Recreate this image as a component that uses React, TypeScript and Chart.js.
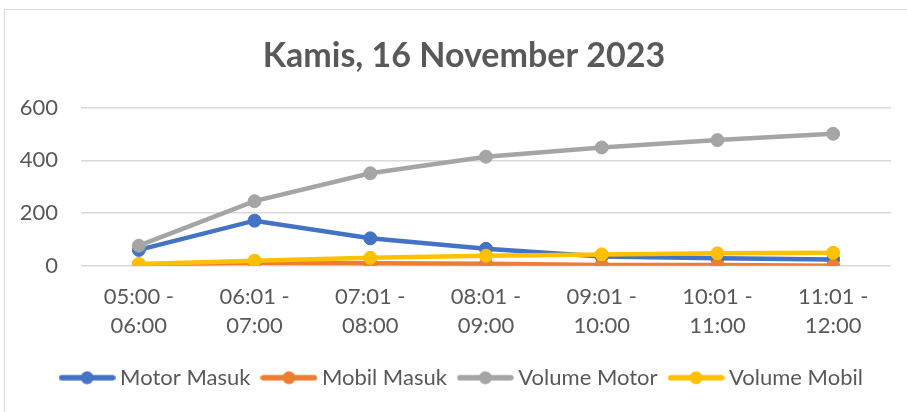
import React, { useEffect, useRef } from "react";
import { Chart, registerables } from "chart.js";

Chart.register(...registerables);

const categories: string[][] = [
  ["05:00 -", "06:00"],
  ["06:01 -", "07:00"],
  ["07:01 -", "08:00"],
  ["08:01 -", "09:00"],
  ["09:01 -", "10:00"],
  ["10:01 -", "11:00"],
  ["11:01 -", "12:00"],
];
const motorMasuk = [60, 171, 104, 64, 35, 28, 24];
const mobilMasuk = [5, 11, 9, 7, 3, 3, 0];
const volumeMotor = [76, 245, 351, 414, 449, 477, 501];
const volumeMobil = [6, 19, 30, 38, 43, 47, 49];
const yTicks = [0, 200, 400, 600];

const seriesNames = ["Motor Masuk", "Mobil Masuk", "Volume Motor", "Volume Mobil"];
const seriesColors = ["#4472C4", "#ED7D31", "#A5A5A5", "#FFC000"];

const FONT = "Lato, 'Open Sans', sans-serif";
const TEXT = "#595959";

function makeIcon(color: string): HTMLCanvasElement {
  const c = document.createElement("canvas");
  c.width = 57;
  c.height = 16;
  const ctx = c.getContext("2d")!;
  ctx.strokeStyle = color;
  ctx.lineWidth = 5.5;
  ctx.lineCap = "round";
  ctx.beginPath();
  ctx.moveTo(3, 8);
  ctx.lineTo(54, 8);
  ctx.stroke();
  ctx.fillStyle = color;
  ctx.beginPath();
  ctx.arc(28.5, 8, 6.5, 0, Math.PI * 2);
  ctx.fill();
  return c;
}

export default function App() {
  const ref = useRef<HTMLCanvasElement | null>(null);

  useEffect(() => {
    if (!ref.current) return;
    const icons = seriesColors.map(makeIcon);
    const values = [motorMasuk, mobilMasuk, volumeMotor, volumeMobil];
    const chart = new Chart(ref.current, {
      type: "line",
      data: {
        labels: categories,
        datasets: values.map((v, i) => ({
          label: seriesNames[i],
          data: v,
          borderColor: seriesColors[i],
          backgroundColor: seriesColors[i],
          pointBackgroundColor: seriesColors[i],
          pointBorderColor: seriesColors[i],
          borderWidth: 4.5,
          pointRadius: 6.5,
          pointBorderWidth: 1,
          tension: 0,
          fill: false,
          order: 3 - i,
          yAxisID: "y",
        })),
      },
      options: {
        responsive: false,
        devicePixelRatio: 1,
        animation: false,
        layout: { padding: { top: 0, left: 0, right: 0, bottom: 13.3 } },
        plugins: {
          tooltip: { enabled: false },
          title: {
            display: true,
            text: "Kamis, 16 November 2023",
            color: TEXT,
            font: { family: FONT, size: 34, weight: "bold", lineHeight: 1.2 },
            padding: { top: 25.6, bottom: 31.3 },
          },
          legend: {
            display: true,
            position: "bottom",
            labels: {
              color: TEXT,
              font: { family: FONT, size: 22 },
              usePointStyle: true,
              pointStyleWidth: 44,
              padding: 16.5,
              generateLabels: (ch: any) =>
                ch.data.datasets.map((ds: any, i: number) => ({
                  text: ds.label,
                  fillStyle: ds.borderColor,
                  strokeStyle: ds.borderColor,
                  lineWidth: 0,
                  pointStyle: icons[i],
                  hidden: false,
                  datasetIndex: i,
                  fontColor: TEXT,
                })),
            },
          },
        },
        scales: {
          x: {
            type: "category",
            offset: true,
            grid: { display: false, drawTicks: false },
            border: { display: false },
            ticks: {
              color: TEXT,
              font: { family: FONT, size: 22, lineHeight: "29px" } as any,
              padding: 17.2,
              maxRotation: 0,
              autoSkip: false,
            },
            afterFit: (s: any) => {
              s.height = 84.5;
            },
          },
          y: {
            type: "linear",
            position: "left",
            min: 0,
            max: 600,
            afterBuildTicks: (s: any) => {
              s.ticks = yTicks.map((v) => ({ value: v }));
            },
            grid: { color: "#d9d9d9", lineWidth: 1.5, drawTicks: false },
            border: { display: false },
            ticks: {
              color: TEXT,
              font: { family: FONT, size: 22 },
              padding: 23,
            },
            afterFit: (s: any) => {
              s.width = 76;
            },
          },
          yR: {
            type: "linear",
            position: "right",
            display: true,
            grid: { display: false, drawTicks: false },
            border: { display: false },
            ticks: { display: false },
            afterFit: (s: any) => {
              s.width = 32;
            },
          },
        },
      },
    } as any);
    return () => chart.destroy();
  }, []);

  return (
    <div
      style={{
        position: "fixed",
        left: 0,
        top: 0,
        width: 907,
        height: 412,
        overflow: "hidden",
        background: "#fff",
      }}
    >
      <div
        style={{
          position: "absolute",
          left: 4,
          top: 9,
          width: 918,
          height: 420,
          border: "1px solid #d9d9d9",
          background: "#fff",
        }}
      >
        <canvas
          ref={ref}
          width={918}
          height={402}
          style={{ display: "block", width: 918, height: 402 }}
        />
      </div>
    </div>
  );
}
